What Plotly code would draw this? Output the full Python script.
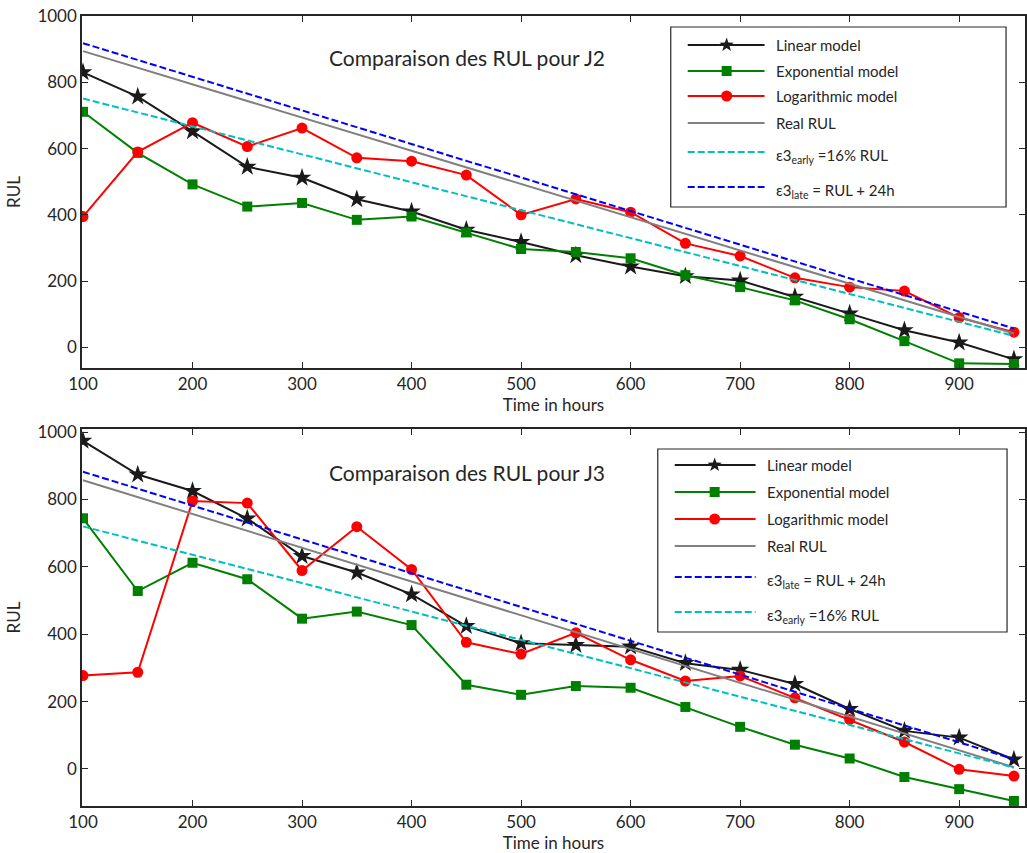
import math
import plotly.graph_objects as go

# ---------------- data ----------------
hours = [100, 150, 200, 250, 300, 350, 400, 450, 500, 550, 600, 650, 700, 750, 800, 850, 900, 950]

# J2
lin_j2 = [830, 757, 652, 545, 512, 447, 410, 355, 318, 278, 244, 215, 202, 153, 102, 52, 15, -36]
exp_j2 = [711, 587, 492, 425, 436, 385, 395, 347, 297, 288, 269, 218, 182, 142, 85, 19, -48, -50]
log_j2 = [395, 590, 678, 606, 662, 572, 562, 520, 400, 448, 408, 314, 276, 210, 182, 170, 90, 46]
real_j2 = [894, 844, 794, 744, 693, 643, 593, 543, 493, 443, 393, 343, 293, 243, 192, 142, 92, 42]
late_j2 = [918, 867, 817, 766, 715, 665, 614, 563, 513, 462, 411, 361, 310, 259, 209, 158, 108, 57]
early_j2 = [751, 709, 667, 625, 582, 540, 498, 456, 414, 372, 330, 288, 246, 204, 161, 119, 77, 35]

# J3
lin_j3 = [974, 874, 825, 743, 632, 583, 518, 424, 373, 368, 363, 314, 294, 252, 178, 113, 93, 28]
exp_j3 = [744, 528, 612, 563, 446, 467, 427, 250, 220, 246, 241, 184, 125, 72, 31, -24, -60, -95]
log_j3 = [277, 287, 795, 789, 589, 719, 592, 376, 341, 404, 324, 261, 276, 211, 147, 80, -1, -21]
real_j3 = [857, 807, 757, 706, 656, 606, 556, 506, 456, 406, 356, 306, 256, 205, 155, 105, 55, 5]
late_j3 = [882, 832, 782, 731, 681, 631, 581, 531, 480, 430, 380, 330, 280, 229, 179, 129, 79, 29]
early_j3 = [720, 678, 636, 593, 551, 509, 467, 425, 383, 341, 299, 257, 215, 172, 130, 88, 46, 4]

x_ticks = [100, 200, 300, 400, 500, 600, 700, 800, 900]
y_ticks = [0, 200, 400, 600, 800, 1000]

title_j2 = "Comparaison des RUL pour J2"
title_j3 = "Comparaison des RUL pour J3"
x_title = "Time in hours"
y_title = "RUL"

lbl_lin = "Linear model"
lbl_exp = "Exponential model"
lbl_log = "Logarithmic model"
lbl_real = "Real RUL"
lbl_early = "\u03b53<sub>early</sub> =16% RUL"
lbl_late = "\u03b53<sub>late</sub> = RUL + 24h"

# ---------------- styles ----------------
FONT = "Lato"
TXT = "#262626"
C_LIN, C_EXP, C_LOG = "#1a1a1a", "#008000", "#ff0000"
C_REAL, C_EARLY, C_LATE = "#808080", "#00bfbf", "#0000ff"
DASH = "7px,3px"

W, H = 1027, 853
ML, MR, MT, MB = 82, 0, 16, 47
PW, PH = W - ML - MR, H - MT - MB


def px_x(px):
    return (px - ML) / PW


def px_y(py):
    return (H - MB - py) / PH


styles = {
    "lin": dict(color=C_LIN, dash="solid", sym="star", size=14),
    "exp": dict(color=C_EXP, dash="solid", sym="square", size=10),
    "log": dict(color=C_LOG, dash="solid", sym="circle", size=11),
    "real": dict(color=C_REAL, dash="solid", sym=None, size=0),
    "early": dict(color=C_EARLY, dash=DASH, sym=None, size=0),
    "late": dict(color=C_LATE, dash=DASH, sym=None, size=0),
}

fig = go.Figure()


def add_series(key, name, ys, xa, ya):
    s = styles[key]
    if s["sym"]:
        fig.add_trace(go.Scatter(
            x=hours, y=ys, name=name, mode="lines+markers", xaxis=xa, yaxis=ya,
            line=dict(color=s["color"], width=2, dash=s["dash"]),
            marker=dict(symbol=s["sym"], size=s["size"], color=s["color"], line=dict(width=0)),
            showlegend=False))
    else:
        fig.add_trace(go.Scatter(
            x=hours, y=ys, name=name, mode="lines", xaxis=xa, yaxis=ya,
            line=dict(color=s["color"], width=2, dash=s["dash"]),
            showlegend=False))


top_series = [("lin", lbl_lin, lin_j2), ("exp", lbl_exp, exp_j2), ("log", lbl_log, log_j2),
              ("real", lbl_real, real_j2), ("early", lbl_early, early_j2), ("late", lbl_late, late_j2)]
bot_series = [("lin", lbl_lin, lin_j3), ("exp", lbl_exp, exp_j3), ("log", lbl_log, log_j3),
              ("real", lbl_real, real_j3), ("late", lbl_late, late_j3), ("early", lbl_early, early_j3)]

for k, n, ys in top_series:
    add_series(k, n, ys, "x", "y")
for k, n, ys in bot_series:
    add_series(k, n, ys, "x2", "y2")

# ---------------- axes ----------------
axis_common = dict(
    showline=True, linecolor=TXT, linewidth=1.5, mirror="ticks",
    ticks="inside", ticklen=6, tickwidth=1, tickcolor=TXT,
    showgrid=False, zeroline=False,
    tickfont=dict(family=FONT, size=17, color=TXT),
)

top_dom = [px_y(368), 1.0]
bot_dom = [0.0, px_y(429)]

fig.update_layout(
    xaxis=dict(axis_common, domain=[0, 1], range=[99.1, 960.1], tickvals=x_ticks, anchor="y",
               title=dict(text=x_title, font=dict(family=FONT, size=17, color=TXT), standoff=2)),
    yaxis=dict(axis_common, domain=top_dom, range=[-62, 1000], tickvals=y_ticks, anchor="x",
               title=dict(text=y_title, font=dict(family=FONT, size=17, color=TXT), standoff=12)),
    xaxis2=dict(axis_common, domain=[0, 1], range=[99.1, 960.1], tickvals=x_ticks, anchor="y2",
                title=dict(text=x_title, font=dict(family=FONT, size=17, color=TXT), standoff=2)),
    yaxis2=dict(axis_common, domain=bot_dom, range=[-110, 1009], tickvals=y_ticks, anchor="x2",
                title=dict(text=y_title, font=dict(family=FONT, size=17, color=TXT), standoff=12)),
)

# ---------------- titles inside plots ----------------
annotations = [
    dict(text=title_j2, x=px_x(468), y=px_y(57), xref="paper", yref="paper",
         showarrow=False, font=dict(family=FONT, size=21, color=TXT), xanchor="center", yanchor="middle"),
    dict(text=title_j3, x=px_x(468), y=px_y(472), xref="paper", yref="paper",
         showarrow=False, font=dict(family=FONT, size=21, color=TXT), xanchor="center", yanchor="middle"),
]
shapes = []


def star_path(ro, ri):
    pts = []
    for i in range(10):
        r = ro if i % 2 == 0 else ri
        a = math.pi / 2 + i * math.pi / 5
        pts.append((r * math.cos(a), r * math.sin(a)))
    return "M " + " L ".join(f"{x:.2f},{y:.2f}" for x, y in pts) + " Z"


def draw_legend(box, rows, series, x0, x1, xm, xt):
    bx0, by0, bx1, by1 = box
    shapes.append(dict(type="rect", xref="paper", yref="paper",
                       x0=px_x(bx0), x1=px_x(bx1), y0=px_y(by1), y1=px_y(by0),
                       line=dict(color=TXT, width=1.2), fillcolor="white", layer="above"))
    for (k, n, _), ry in zip(series, rows):
        s = styles[k]
        shapes.append(dict(type="line", xref="paper", yref="paper",
                           x0=px_x(x0), x1=px_x(x1), y0=px_y(ry), y1=px_y(ry),
                           line=dict(color=s["color"], width=2, dash=s["dash"]), layer="above"))
        anc = dict(xref="paper", yref="paper", xsizemode="pixel", ysizemode="pixel",
                   xanchor=px_x(xm), yanchor=px_y(ry), layer="above")
        if s["sym"] == "star":
            shapes.append(dict(anc, type="path", path=star_path(7.5, 3.0),
                               fillcolor=s["color"], line=dict(width=0)))
        elif s["sym"] == "square":
            shapes.append(dict(anc, type="rect", x0=-5, x1=5, y0=-5, y1=5,
                               fillcolor=s["color"], line=dict(width=0)))
        elif s["sym"] == "circle":
            shapes.append(dict(anc, type="circle", x0=-5.5, x1=5.5, y0=-5.5, y1=5.5,
                               fillcolor=s["color"], line=dict(width=0)))
        ty = ry + (4 if "<sub>" in n else 0)
        annotations.append(dict(text=n, x=px_x(xt), y=px_y(ty), xref="paper", yref="paper",
                                showarrow=False, xanchor="left", yanchor="middle",
                                font=dict(family=FONT, size=15, color=TXT)))


draw_legend((672, 27, 1008, 207), [45, 71, 96, 123, 152, 187], top_series, 689, 766, 728, 775)
draw_legend((659, 449, 1009, 632), [465, 492, 519, 546, 577, 612], bot_series, 676, 757, 716, 766)

fig.update_layout(
    width=W, height=H, margin=dict(l=ML, r=MR, t=MT, b=MB, pad=0),
    paper_bgcolor="white", plot_bgcolor="white",
    showlegend=False, annotations=annotations, shapes=shapes,
    font=dict(family=FONT, color=TXT),
)

fig.write_html("out.html", config={"displayModeBar": False},
               post_script="document.body.style.margin='0';")
